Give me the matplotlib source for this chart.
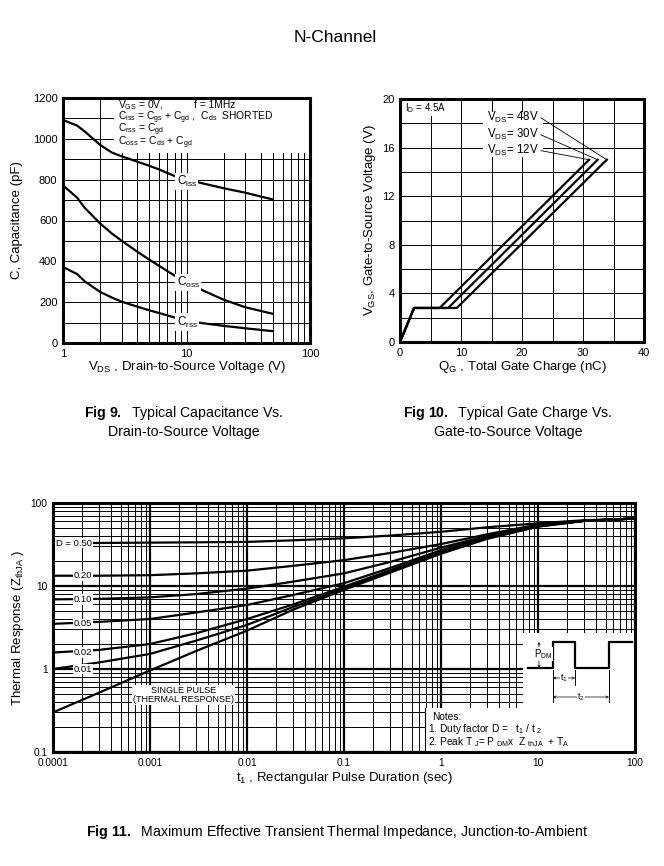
import matplotlib
matplotlib.use("Agg")
import matplotlib.pyplot as plt
from matplotlib.lines import Line2D
from matplotlib.patches import Rectangle
from matplotlib.ticker import (FixedFormatter, FixedLocator, LogLocator,
                               MultipleLocator, NullFormatter)

plt.rcParams["font.family"] = ["Liberation Sans", "DejaVu Sans"]
plt.rcParams["mathtext.fontset"] = "custom"
plt.rcParams["mathtext.rm"] = "Liberation Sans"
plt.rcParams["mathtext.it"] = "Liberation Sans:italic"
plt.rcParams["mathtext.bf"] = "Liberation Sans:bold"
plt.rcParams["mathtext.default"] = "regular"

W, H = 664, 866

# Fig 9: capacitance vs drain-to-source voltage
vds = [1, 1.3, 1.5, 2, 2.5, 3, 4, 5, 6, 8, 10, 13.5, 20, 30, 50]
ciss = [1092, 1065, 1036, 970, 932, 914, 888, 868, 850, 818, 802, 782, 758, 736, 703]
coss = [772, 712, 662, 585, 535, 500, 447, 408, 378, 330, 305, 258, 212, 175, 143]
crss = [372, 338, 302, 250, 222, 202, 178, 160, 147, 125, 112, 97, 84, 72, 58]

# Fig 10: gate charge, (Qg, Vgs) corner points per VDS
qg_12v = [0, 2.3, 6.5, 31.0]
qg_30v = [0, 2.3, 7.9, 32.4]
qg_48v = [0, 2.3, 9.3, 33.9]
vgs_pts = [0, 2.8, 2.8, 15.0]

# Fig 11: transient thermal impedance
t_pulse = [1e-4, 3e-4, 1e-3, 3e-3, 1e-2, 3e-2, 0.1, 0.3, 1, 3, 10, 30, 100]
duty_labels = ["D = 0.50", "0.20", "0.10", "0.05", "0.02", "0.01"]
z_d50 = [32.7, 33.0, 33.3, 33.6, 34.0, 35.5, 37.6, 40.5, 45, 51, 57, 62, 65]
z_d20 = [13.3, 13.3, 13.5, 14.2, 15.3, 17.5, 20.5, 25, 32, 42, 55, 61, 65]
z_d10 = [6.9, 7.0, 7.3, 8.0, 9.3, 11.3, 14.2, 19.5, 29, 40, 54, 61, 65]
z_d05 = [3.5, 3.7, 4.0, 4.8, 5.9, 7.8, 10.8, 16.5, 27, 39, 53, 61, 65]
z_d02 = [1.58, 1.7, 2.0, 2.7, 4.0, 6.0, 9.8, 15.5, 26, 38, 53, 61, 65]
z_d01 = [1.0, 1.2, 1.52, 2.2, 3.4, 5.6, 9.3, 15, 25, 37.5, 52, 61, 65]
z_single = [0.30, 0.52, 0.96, 1.65, 2.9, 5.2, 9.0, 14.5, 24.5, 37, 52, 61, 65]


def px_axes(fig, x0, y0, x1, y1):
    return fig.add_axes([x0 / W, 1 - y1 / H, (x1 - x0) / W, (y1 - y0) / H])


def fig_text(fig, x, y, s, **kw):
    fig.text(x / W, 1 - y / H, s, **kw)


def style_axes(ax, spine_lw=2.2, labelsize=8):
    ax.set_axisbelow(True)
    ax.tick_params(which="both", length=0, labelsize=labelsize, pad=4)
    for sp in ax.spines.values():
        sp.set_linewidth(spine_lw)
        sp.set_zorder(6)


fig = plt.figure(figsize=(W / 100, H / 100), dpi=100)
fig_text(fig, 335, 38, "N-Channel", fontsize=12.5, ha="center", va="center")

white_box = dict(facecolor="white", edgecolor="none", pad=0.8)
label_size = 9.5

# ---------------- Fig 9 ----------------
ax9 = px_axes(fig, 63, 98, 310, 343)
ax9.set_xscale("log")
ax9.set_xlim(1, 100)
ax9.set_ylim(0, 1200)
ax9.xaxis.set_major_locator(FixedLocator([1, 10, 100]))
ax9.xaxis.set_major_formatter(FixedFormatter(["1", "10", "100"]))
ax9.xaxis.set_minor_locator(LogLocator(subs=range(2, 10)))
ax9.xaxis.set_minor_formatter(NullFormatter())
ax9.yaxis.set_major_locator(MultipleLocator(200))
ax9.yaxis.set_minor_locator(MultipleLocator(100))
ax9.grid(which="both", color="black", lw=0.7)
style_axes(ax9)

ax9.add_patch(Rectangle((2.6, 930), 100 - 2.6, 270, facecolor="white",
                        edgecolor="none", zorder=2))
for c in (ciss, coss, crss):
    ax9.plot(vds, c, color="black", lw=1.6, zorder=3)

leg_kw = dict(fontsize=7.4, ha="left", va="center", zorder=4)
ax9.text(2.8, 1166, "$V_{GS}$ = 0V,", **leg_kw)
ax9.text(11.4, 1166, "f = 1MHz", **leg_kw)
ax9.text(2.8, 1105, "$C_{iss}$ = $C_{gs}$ + $C_{gd}$ ,  $C_{ds}$  SHORTED", **leg_kw)
ax9.text(2.8, 1044, "$C_{rss}$ = $C_{gd}$", **leg_kw)
ax9.text(2.8, 982, "$C_{oss}$ = $C_{ds}$ + $C_{gd}$", **leg_kw)

lab_kw = dict(fontsize=8.5, ha="left", va="center", zorder=5, bbox=white_box)
ax9.text(8.3, 790, "$C_{iss}$", **lab_kw)
ax9.text(8.3, 298, "$C_{oss}$", **lab_kw)
ax9.text(8.3, 103, "$C_{rss}$", **lab_kw)

ax9.set_xlabel("$V_{DS}$ , Drain-to-Source Voltage (V)", fontsize=label_size, va="center")
ax9.xaxis.set_label_coords(0.5, -0.098)
ax9.set_ylabel("C, Capacitance (pF)", fontsize=label_size, va="center")
ax9.yaxis.set_label_coords(-0.186, 0.5)

# ---------------- Fig 10 ----------------
ax10 = px_axes(fig, 400, 99, 644, 342)
ax10.set_xlim(0, 40)
ax10.set_ylim(0, 20)
ax10.xaxis.set_major_locator(MultipleLocator(10))
ax10.xaxis.set_minor_locator(MultipleLocator(5))
ax10.yaxis.set_major_locator(MultipleLocator(4))
ax10.yaxis.set_minor_locator(MultipleLocator(2))
ax10.grid(which="both", color="black", lw=0.7)
style_axes(ax10)

for q in (qg_12v, qg_30v, qg_48v):
    ax10.plot(q, vgs_pts, color="black", lw=1.6, zorder=3)

ax10.text(0.8, 19.25, "$I_D$ = 4.5A", fontsize=7, ha="left", va="center",
          zorder=5, bbox=white_box)
ax10.add_patch(Rectangle((13.6, 15.2), 9.8, 3.75, facecolor="white",
                         edgecolor="none", zorder=2))
vds_labels = ["$V_{DS}$= 48V", "$V_{DS}$= 30V", "$V_{DS}$= 12V"]
label_y = [18.45, 17.05, 15.75]
curve_ends = [qg_48v, qg_30v, qg_12v]
for lab, ly, q in zip(vds_labels, label_y, curve_ends):
    ax10.text(14.3, ly, lab, fontsize=8.3, ha="left", va="center", zorder=4)
    ax10.plot([23.1, q[-1]], [ly, vgs_pts[-1]], color="black", lw=0.6, zorder=4)

ax10.set_xlabel("$Q_G$ , Total Gate Charge (nC)", fontsize=label_size, va="center")
ax10.xaxis.set_label_coords(0.5, -0.103)
ax10.set_ylabel("$V_{GS}$, Gate-to-Source Voltage (V)", fontsize=label_size, va="center")
ax10.yaxis.set_label_coords(-0.123, 0.5)

# captions
cap_kw = dict(fontsize=10.2, ha="center", va="center")
fig_text(fig, 184, 413, r"$\mathbf{Fig\ 9.}$  Typical Capacitance Vs.", **cap_kw)
fig_text(fig, 184, 432, "Drain-to-Source Voltage", **cap_kw)
fig_text(fig, 508, 413, r"$\mathbf{Fig\ 10.}$  Typical Gate Charge Vs.", **cap_kw)
fig_text(fig, 508, 432, "Gate-to-Source Voltage", **cap_kw)

# ---------------- Fig 11 ----------------
ax11 = px_axes(fig, 53, 503, 635, 752)
ax11.set_xscale("log")
ax11.set_yscale("log")
ax11.set_xlim(1e-4, 100)
ax11.set_ylim(0.1, 100)
x_major = [1e-4, 1e-3, 1e-2, 0.1, 1, 10, 100]
ax11.xaxis.set_major_locator(FixedLocator(x_major))
ax11.xaxis.set_major_formatter(FixedFormatter(["0.0001", "0.001", "0.01", "0.1", "1", "10", "100"]))
ax11.xaxis.set_minor_locator(LogLocator(subs=range(2, 10), numticks=50))
ax11.xaxis.set_minor_formatter(NullFormatter())
ax11.yaxis.set_major_locator(FixedLocator([0.1, 1, 10, 100]))
ax11.yaxis.set_major_formatter(FixedFormatter(["0.1", "1", "10", "100"]))
ax11.yaxis.set_minor_locator(LogLocator(subs=range(2, 10), numticks=50))
ax11.yaxis.set_minor_formatter(NullFormatter())
ax11.grid(which="major", color="black", lw=1.6)
ax11.grid(which="minor", color="black", lw=0.7)
style_axes(ax11, labelsize=7.3)

curves = [z_d50, z_d20, z_d10, z_d05, z_d02, z_d01, z_single]
for z in curves:
    ax11.plot(t_pulse, z, color="black", lw=1.6, zorder=3)
for lab, z in zip(duty_labels, curves):
    ax11.text(2.52e-4, z[0], lab, fontsize=6.8, ha="right", va="center",
              zorder=5, bbox=dict(facecolor="white", edgecolor="none", pad=0.5))
ax11.text(2.2e-3, 0.49, "SINGLE PULSE\n(THERMAL RESPONSE)", fontsize=6.5,
          ha="center", va="center", linespacing=1.0, zorder=5,
          bbox=dict(facecolor="white", edgecolor="none", pad=0.8))

# white note areas
ax11.add_patch(Rectangle((0.8076, 0.177), 0.1924, 0.301, transform=ax11.transAxes,
                         facecolor="white", edgecolor="none", zorder=4))
ax11.add_patch(Rectangle((0.6392, 0.0), 0.3608, 0.177, transform=ax11.transAxes,
                         facecolor="white", edgecolor="none", zorder=4))
ax11.add_line(Line2D([0.6392, 0.6392], [0.0, 0.177], transform=ax11.transAxes,
                     color="black", lw=0.8, zorder=5))
note_kw = dict(fontsize=7.3, ha="left", va="center", transform=ax11.transAxes, zorder=6)
ax11.text(0.652, 0.140, "Notes:", **note_kw)
ax11.text(0.645, 0.092, "1. Duty factor D =   $t_1$ / t $_2$", **note_kw)
ax11.text(0.645, 0.040, "2. Peak T $_J$= P $_{DM}$x  Z $_{thJA}$  + $T_A$", **note_kw)

ax11.set_xlabel("$t_1$ , Rectangular Pulse Duration (sec)", fontsize=label_size, va="center")
ax11.xaxis.set_label_coords(0.5, -0.104)
ax11.set_ylabel("Thermal Response ($Z_{thJA}$ )", fontsize=label_size, va="center")
ax11.yaxis.set_label_coords(-0.060, 0.5)

# pulse sketch, drawn in reference pixel units
axp = px_axes(fig, 523, 633, 635, 708)
axp.set_xlim(523, 635)
axp.set_ylim(708, 633)
axp.axis("off")
axp.plot([528, 553, 553, 575, 575, 609, 609, 632],
         [668, 668, 642, 642, 668, 668, 642, 642], color="black", lw=1.6)
axp.plot([553, 553], [670, 702], color="black", lw=0.7)
axp.plot([575, 575], [670, 685], color="black", lw=0.7)
axp.plot([609, 609], [670, 702], color="black", lw=0.7)
arr = dict(arrowstyle="<->", lw=0.5, shrinkA=0, shrinkB=0, mutation_scale=4)
axp.annotate("", xy=(539, 642), xytext=(539, 668), arrowprops=arr)
axp.annotate("", xy=(553, 678), xytext=(575, 678), arrowprops=arr)
axp.annotate("", xy=(553, 697), xytext=(609, 697), arrowprops=arr)
small_box = dict(facecolor="white", edgecolor="none", pad=0.3)
axp.text(543, 654, "$P_{DM}$", fontsize=7, ha="center", va="center", bbox=small_box)
axp.text(564, 678, "$t_1$", fontsize=6.5, ha="center", va="center", bbox=small_box)
axp.text(581, 697, "$t_2$", fontsize=6.5, ha="center", va="center", bbox=small_box)

fig_text(fig, 337, 832,
         r"$\mathbf{Fig\ 11.}$  Maximum Effective Transient Thermal Impedance, Junction-to-Ambient",
         fontsize=10.2, ha="center", va="center")

fig.savefig("out.png", dpi=100)
plt.close(fig)
